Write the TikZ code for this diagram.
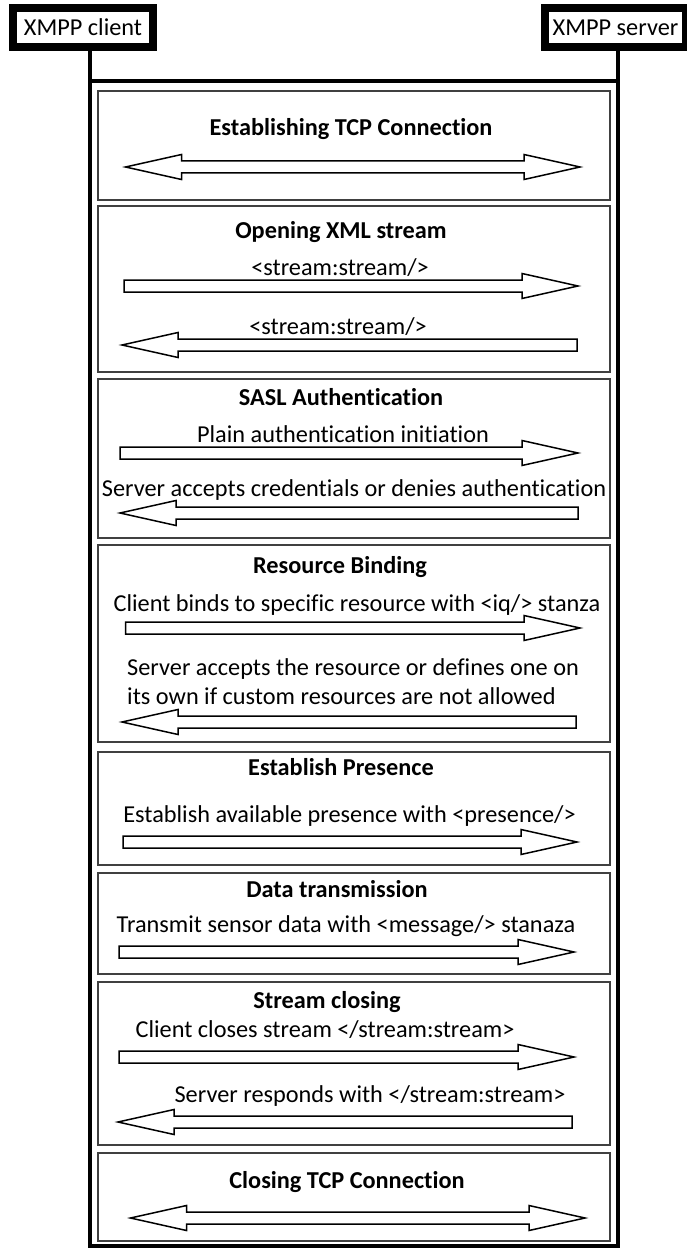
\documentclass[tikz,border=0pt]{standalone}
\usepackage{fontspec}
\setmainfont{Carlito}[Ligatures={NoCommon,NoContextual}, RawFeature={-dlig}]
\tikzset{
  hdr/.style={draw=black, line width=8pt, fill=white, minimum width=140pt, minimum height=39pt, inner sep=0pt, font=\fontsize{24.3}{29}\selectfont},
  life/.style={line width=4pt, black},
  secbox/.style={draw=black!75, line width=2pt},
  blockarr/.style={draw=black, line width=1.5pt, fill=white, line join=miter},
  ttl/.style={anchor=base, inner sep=0pt, font=\fontsize{24.3}{29}\selectfont\bfseries},
  lbl/.style={anchor=base, inner sep=0pt, font=\fontsize{24.3}{29}\selectfont},
}
% right-pointing block arrow: tail x, tip x, y
\newcommand\rblock[3]{\draw[blockarr] (#1,#3-6) -- (#2-56,#3-6) -- (#2-56,#3-12.5) -- (#2,#3) -- (#2-56,#3+12.5) -- (#2-56,#3+6) -- (#1,#3+6) -- cycle;}
% left-pointing block arrow: tip x, tail x, y
\newcommand\lblock[3]{\draw[blockarr] (#2,#3-6) -- (#1+56,#3-6) -- (#1+56,#3-12.5) -- (#1,#3) -- (#1+56,#3+12.5) -- (#1+56,#3+6) -- (#2,#3+6) -- cycle;}
% double block arrow: left tip, right tip, y
\newcommand\dblock[3]{\draw[blockarr] (#1+56,#3-6) -- (#2-56,#3-6) -- (#2-56,#3-12.5) -- (#2,#3) -- (#2-56,#3+12.5) -- (#2-56,#3+6) -- (#1+56,#3+6) -- (#1+56,#3+12.5) -- (#1,#3) -- (#1+56,#3-12.5) -- cycle;}
\begin{document}
\begin{tikzpicture}[x=1pt, y=-1pt]
\useasboundingbox (0,0) rectangle (687,1249);
\fill[white] (0,0) rectangle (687,1249);
% frame
\coordinate (ftl) at (90,81);
\coordinate (ftr) at (618,81);
\coordinate (fbl) at (90,1246);
\coordinate (fbr) at (618,1246);
\node[hdr] (client) at (83,27.5) {XMPP client};
\node[hdr, minimum width=141pt] (server) at (615.5,27.5) {XMPP server};
\draw[life] (client.south -| ftl) -- (ftl);
\draw[life] (server.south -| ftr) -- (ftr);
\draw[life, line join=miter] (ftl) -- (ftr) -- (fbr) -- (fbl) -- cycle;
% section boxes
\draw[secbox] (98,91) rectangle (610,200);
\draw[secbox] (98,206) rectangle (610,372);
\draw[secbox] (98,379) rectangle (610,538);
\draw[secbox] (98,545) rectangle (610,742);
\draw[secbox] (98,752) rectangle (610,865);
\draw[secbox] (98,873) rectangle (610,974);
\draw[secbox] (98,982) rectangle (610,1145);
\draw[secbox] (98,1153) rectangle (610,1241);
% 1
\node[ttl] (t1) at (351,136) {Establishing TCP Connection};
\dblock{125.5}{580}{167}
% 2
\node[ttl] (t2) at (341,239) {Opening XML stream};
\node[lbl] (l2a) at (340,276) {<stream:stream/>};
\rblock{124}{578}{286}
\node[lbl] (l2b) at (338,334) {<stream:stream/>};
\lblock{122}{577}{345}
% 3
\node[ttl] (t3) at (341,405) {SASL Authentication};
\node[lbl] (l3a) at (343,442) {Plain authentication initiation};
\rblock{120}{578}{453}
\node[lbl] (l3b) at (354,496) {Server accepts credentials or denies authentication};
\lblock{120}{578}{513}
% 4
\node[ttl] (t4) at (340,573) {Resource Binding};
\node[lbl] (l4a) at (357,611) {Client binds to specific resource with <iq/> stanza};
\rblock{125.5}{580}{628}
\node[lbl, anchor=base west] (l4b) at (127,675) {Server accepts the resource or defines one on};
\node[lbl, anchor=base west] (l4c) at (127,704) {its own if custom resources are not allowed};
\lblock{122}{576}{722}
% 5
\node[ttl] (t5) at (341,775) {Establish Presence};
\node[lbl] (l5a) at (349.5,822) {Establish available presence with <presence/>};
\rblock{123}{577}{842}
% 6
\node[ttl] (t6) at (337,897) {Data transmission};
\node[lbl] (l6a) at (346,932) {Transmit sensor data with <message/> stanaza};
\rblock{119}{574}{952}
% 7
\node[ttl] (t7) at (327,1008) {Stream closing};
\node[lbl] (l7a) at (325,1037) {Client closes stream </stream:stream>};
\rblock{119}{574}{1057}
\node[lbl] (l7b) at (370,1102) {Server responds with </stream:stream>};
\lblock{118}{572}{1122}
% 8
\node[ttl] (t8) at (347,1188) {Closing TCP Connection};
\dblock{130.5}{585}{1218}
\end{tikzpicture}
\end{document}
